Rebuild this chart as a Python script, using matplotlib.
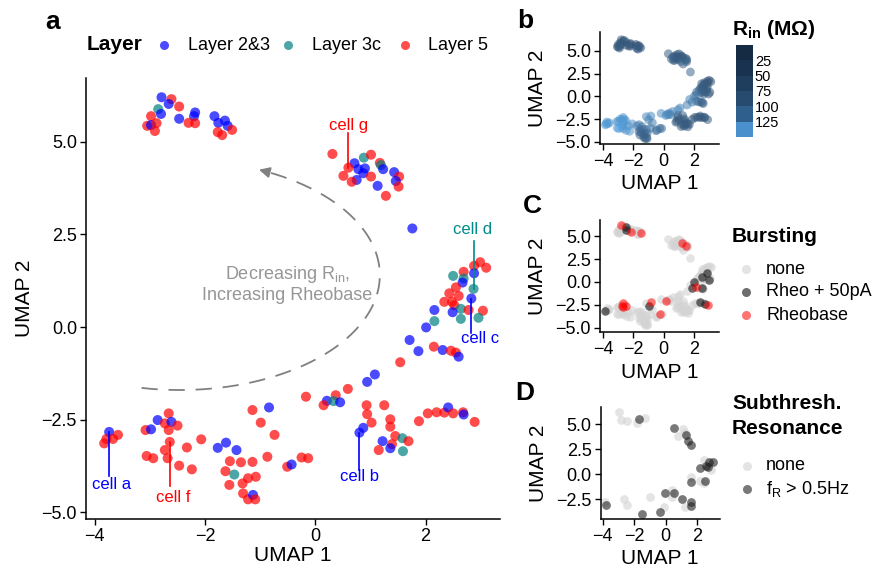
import numpy as np
import matplotlib
matplotlib.use("Agg")
import matplotlib.pyplot as plt
from matplotlib.lines import Line2D
from matplotlib.colors import ListedColormap, BoundaryNorm, LinearSegmentedColormap, Normalize
from matplotlib.cm import ScalarMappable

plt.rcParams['font.family'] = ['Liberation Sans', 'DejaVu Sans']
plt.rcParams['mathtext.fontset'] = 'custom'
plt.rcParams['mathtext.rm'] = 'Liberation Sans'
plt.rcParams['mathtext.it'] = 'Liberation Sans:italic'
plt.rcParams['mathtext.bf'] = 'Liberation Sans:bold'

# ---- UMAP embedding, one entry per cell (grouped by cluster) ----
umap1 = [
    -2.79, -2.61, -2.66, -2.47, -2.85, -2.80, -2.98, -2.47, -2.18, -2.20, -2.30, -2.18,
    -3.05, -2.98, -2.88, -2.91, -1.83, -1.76, -1.64, -1.59, -1.51, -1.77, -1.69,
    0.31, 0.88, 1.01, 0.71, 0.60, 0.78, 0.90, 0.87, 1.17, 1.19, 1.23, 0.51, 0.75, 0.66,
    1.01, 1.43, 1.52, 1.46, 1.51, 1.13, 1.28,
    1.76, 2.99, 2.88, 3.10, 2.69, 2.88, 2.50, 2.69, 2.67, 2.87, 2.55, 2.43, 2.60, 2.83,
    2.34, 2.48, 2.52, 2.64, 2.78, 3.04, 2.49, 2.16, 2.64, 2.96, 2.16, 2.01, 1.71, 2.15,
    1.87, 2.31, 2.46, 2.55, 2.60, 1.54,
    1.08, 0.94, 0.59, 0.37, -0.17, 0.21, 0.33, 0.45, 0.15,
    0.93, 1.25, 0.94, 1.02, 0.87, 0.80, 1.36, 1.36, 1.45, 1.58, 1.69, 1.22, 1.39, 1.36,
    1.15, 1.59,
    1.88, 2.04, 2.20, 2.34, 2.41, 2.50, 2.68, 2.69, 2.89,
    -3.74, -3.83, -3.79, -3.67, -3.58, -3.08, -2.98, -2.86, -2.66, -2.73, -2.61, -2.50,
    -2.66, -2.64, -2.73, -2.68, -3.06, -2.94, -2.33, -2.07, -2.47, -2.24,
    -1.77, -1.62, -1.43, -1.55, -1.35, -1.14, -1.63, -1.47, -1.56, -1.22, -1.08, -1.32,
    -1.31, -1.22, -1.13, -1.09,
    -1.14, -0.84, -0.99, -0.74, -0.87, -0.51, -0.43, -0.25, -0.13,
]
umap2 = [
    6.20, 6.15, 6.02, 5.95, 5.88, 5.75, 5.69, 5.62, 5.79, 5.69, 5.51, 5.50,
    5.43, 5.45, 5.50, 5.29, 5.69, 5.51, 5.57, 5.43, 5.32, 5.26, 5.18,
    4.67, 4.57, 4.65, 4.42, 4.30, 4.26, 4.28, 4.15, 4.43, 4.37, 4.26, 4.08, 3.97, 3.92,
    4.06, 4.18, 4.06, 3.94, 3.79, 3.81, 3.54,
    2.66, 1.75, 1.65, 1.60, 1.49, 1.45, 1.38, 1.31, 1.20, 1.03, 1.07, 0.91, 0.84, 0.77,
    0.68, 0.68, 0.59, 0.49, 0.46, 0.44, 0.40, 0.46, 0.22, 0.25, 0.16, -0.01, -0.35, -0.53,
    -0.65, -0.62, -0.64, -0.69, -0.80, -0.95,
    -1.28, -1.48, -1.67, -1.84, -1.88, -1.99, -2.00, -2.03, -2.11,
    -2.11, -2.11, -2.35, -2.58, -2.72, -2.85, -2.49, -2.69, -2.94, -3.00, -3.08, -3.08,
    -3.16, -3.27, -3.32, -3.35,
    -2.54, -2.33, -2.30, -2.31, -2.17, -2.33, -2.30, -2.36, -2.56,
    -2.83, -3.14, -3.02, -3.02, -2.91, -2.78, -2.76, -2.51, -2.33, -2.60, -2.56, -2.66,
    -2.78, -3.10, -3.32, -3.54, -3.48, -3.54, -3.25, -3.03, -3.74, -3.84,
    -3.26, -3.12, -3.32, -3.62, -3.65, -3.64, -3.89, -3.98, -4.26, -4.08, -4.04, -4.22,
    -4.49, -4.65, -4.53, -4.65,
    -2.24, -2.17, -2.58, -2.91, -3.50, -3.77, -3.71, -3.52, -3.54,
]
layer = [
    '23', '5', '23', '5', '3c', '23', '5', '23', '23', '23', '5', '5',
    '5', '23', '5', '5', '23', '23', '23', '23', '5', '5', '5',
    '5', '3c', '5', '23', '5', '23', '23', '23', '5', '3c', '23', '5', '23', '5',
    '5', '23', '5', '23', '5', '23', '5',
    '23', '5', '5', '5', '5', '23', '3c', '3c', '23', '3c', '5', '5', '5', '23',
    '5', '5', '5', '3c', '5', '5', '23', '23', '3c', '3c', '3c', '23', '23', '5',
    '23', '23', '5', '5', '23', '5',
    '23', '23', '5', '5', '5', '23', '3c', '23', '5',
    '5', '5', '5', '5', '23', '23', '5', '5', '5', '3c', '5', '23',
    '5', '23', '5', '3c',
    '5', '5', '5', '5', '23', '5', '5', '23', '5',
    '23', '5', '5', '5', '5', '5', '23', '23', '5', '5', '23', '5',
    '5', '5', '5', '5', '5', '5', '5', '5', '5', '5',
    '23', '23', '23', '5', '5', '5', '5', '3c', '5', '5', '5', '5',
    '5', '5', '23', '5',
    '5', '23', '5', '5', '5', '5', '23', '5', '5',
]
# input resistance (MOhm)
rin = [
    35, 40, 30, 45, 38, 32, 42, 36, 30, 34, 40, 44,
    45, 38, 40, 42, 30, 32, 36, 34, 48, 44, 40,
    50, 45, 40, 38, 42, 36, 40, 44, 38, 42, 40, 55, 46, 48,
    40, 44, 50, 46, 52, 48, 58,
    60, 35, 38, 32, 40, 36, 42, 38, 40, 45, 44, 46, 40, 42,
    50, 48, 46, 44, 40, 38, 48, 70, 52, 45, 75, 80, 100, 70,
    90, 65, 60, 55, 58, 95,
    105, 100, 110, 108, 112, 104, 100, 98, 110,
    55, 50, 48, 45, 42, 40, 46, 44, 42, 40, 44, 38,
    40, 42, 46, 44,
    45, 42, 40, 44, 38, 42, 40, 38, 44,
    130, 128, 135, 132, 126, 125, 130, 122, 120, 124, 128, 126,
    130, 132, 135, 128, 138, 134, 122, 118, 126, 124,
    95, 90, 80, 70, 65, 75, 60, 62, 58, 55, 60, 56,
    52, 50, 55, 54,
    110, 112, 95, 90, 80, 75, 78, 72, 70,
]
# bursting: none / rheo50 (Rheo + 50pA) / rheo (Rheobase)
burst = [
    'rheo', 'none', 'none', 'rheo50', 'none', 'none', 'none', 'rheo50', 'none', 'none', 'none', 'rheo',
    'none', 'none', 'none', 'none', 'none', 'none', 'none', 'none', 'rheo', 'none', 'none',
    'none', 'none', 'none', 'none', 'none', 'none', 'none', 'none', 'none', 'none', 'rheo', 'none', 'none', 'none',
    'none', 'none', 'none', 'rheo', 'none', 'none', 'none',
    'none', 'none', 'none', 'none', 'none', 'none', 'none', 'none', 'none', 'rheo50', 'none', 'none', 'none', 'none',
    'none', 'none', 'rheo50', 'none', 'none', 'none', 'none', 'none', 'none', 'rheo50', 'none', 'rheo50', 'none', 'rheo',
    'rheo50', 'none', 'none', 'rheo50', 'none', 'none',
    'none', 'none', 'none', 'none', 'none', 'none', 'none', 'none', 'rheo',
    'none', 'none', 'none', 'none', 'none', 'none', 'none', 'none', 'none', 'none', 'none', 'none',
    'none', 'none', 'none', 'none',
    'none', 'none', 'none', 'none', 'rheo50', 'none', 'none', 'rheo50', 'rheo',
    'none', 'rheo50', 'none', 'none', 'none', 'none', 'none', 'none', 'rheo', 'rheo', 'none', 'rheo',
    'rheo', 'none', 'none', 'none', 'none', 'none', 'none', 'none', 'none', 'none',
    'none', 'none', 'none', 'none', 'none', 'none', 'none', 'none', 'none', 'none', 'none', 'none',
    'none', 'none', 'none', 'none',
    'none', 'rheo', 'rheo50', 'none', 'none', 'none', 'none', 'rheo', 'none',
]

# panel D: cells tested for subthreshold resonance
res_u1 = [-2.98, -2.81, -2.43, -1.79, -1.33, 1.11, 1.26, 0.79, 2.45, 2.92, 2.71, 1.60,
          2.18, 2.45, -3.87, -2.64, -2.43, -0.97, 0.42, 0.42, -0.12, 1.26,
          -3.77, -1.69, 0.51, 1.33, 1.43, 1.64, 2.22, 2.60, 2.77, 3.03, 2.71, 2.54,
          1.64, -0.05, 0.52, 1.07, 1.64, 1.64, -0.35, -1.48]
res_u2 = [6.18, 5.41, 5.35, 5.08, 5.58, 4.48, 4.08, 3.85, 1.43, 0.43, 1.09, -0.30,
          -0.63, -0.90, -2.73, -2.50, -3.06, -2.30, -1.56, -2.23, -3.23, -3.29,
          -3.06, 5.51, 4.65, 3.92, 3.35, 2.92, 0.60, 0.83, 1.26, 1.26, 0.76, -0.63,
          -0.80, -1.82, -1.82, -2.46, -2.79, -3.15, -3.73, -4.00]
res_cls = ['none'] * 22 + ['fR'] * 20

# labelled example cells: (label, index, text x, text y, line end y, colour)
cell_labels = [
    ('cell a', 112, -3.69, -4.26, -4.02, '#0000FF'),
    ('cell f', 125, -2.58, -4.59, -4.29, '#FF0000'),
    ('cell b', 92, 0.81, -4.04, -3.86, '#0000FF'),
    ('cell g', 27, 0.61, 5.43, 5.23, '#FF0000'),
    ('cell d', 53, 2.86, 2.64, 2.32, '#008B8B'),
    ('cell c', 57, 2.98, -0.31, -0.15, '#0000FF'),
]

layer_colors = {'23': '#0000FF', '3c': '#008080', '5': '#FF0000'}
layer_names = {'23': 'Layer 2&3', '3c': 'Layer 3c', '5': 'Layer 5'}
burst_colors = {'none': ('#D3D3D3', 0.6), 'rheo50': ('#202020', 0.65), 'rheo': ('#FF0000', 0.55)}
burst_names = {'none': 'none', 'rheo50': 'Rheo + 50pA', 'rheo': 'Rheobase'}
rin_steps = ['#142B43', '#193250', '#1F3D5C', '#264B6E', '#2F5F8C', '#4A90CC']

W, H = 875, 570


def fx(p):
    return p / W


def fy(p):
    return 1 - p / H


def style_axis(ax):
    for s in ['top', 'right']:
        ax.spines[s].set_visible(False)
    for s in ['left', 'bottom']:
        ax.spines[s].set_linewidth(1.1)
    ax.tick_params(direction='out', length=4.3, width=1.0, labelsize=13, pad=2.2, colors='black')


def num(v):
    s = '%.1f' % abs(v)
    return ('\u2212' + s) if v < 0 else s


fig = plt.figure(figsize=(W / 100, H / 100), dpi=100)

# ---------------- panel a ----------------
ax = fig.add_axes([fx(86), fy(519), 414 / W, 441 / H])
ax.scatter(umap1, umap2, c=[layer_colors[l] for l in layer], s=52, alpha=0.7, linewidths=0)
ax.set_xlim(-4.16, 3.35)
ax.set_ylim(-5.18, 6.72)
ax.set_xticks([-4, -2, 0, 2])
ax.set_xticklabels(['\u22124', '\u22122', '0', '2'])
ax.set_yticks([-5, -2.5, 0, 2.5, 5])
ax.set_yticklabels([num(v) for v in [-5, -2.5, 0, 2.5, 5]])
style_axis(ax)
ax.set_xlabel('UMAP 1', fontsize=15, va='top')
ax.xaxis.set_label_coords(0.5, -0.062)
ax.set_ylabel('UMAP 2', fontsize=15)
ax.yaxis.set_label_coords(-0.126, 0.5)

for lab, i, tx, ty, ly, col in cell_labels:
    ax.plot([umap1[i], umap1[i]], [umap2[i], ly], color=col, lw=1.2)
    ax.text(tx, ty, lab, color=col, fontsize=12, ha='center', va='center')

# dashed arc arrow
t = np.radians(np.linspace(-101, 64, 200))
arc_x = -2.46 + 3.63 * np.cos(t)
arc_y = 1.40 + 3.10 * np.sin(t)
ax.plot(arc_x, arc_y, color='#808080', lw=1.3, ls=(0, (9, 6)))
te = np.radians(67.5)
ax.annotate('', xy=(-2.46 + 3.63 * np.cos(te), 1.40 + 3.10 * np.sin(te)),
            xytext=(arc_x[-1], arc_y[-1]),
            arrowprops=dict(arrowstyle='-|>', color='#808080', lw=1.3, mutation_scale=16))
ax.text(-0.51, 1.15, 'Decreasing R$_\\mathregular{in}$,\nIncreasing Rheobase',
        color='#969696', fontsize=13, ha='center', va='center', multialignment='center',
        linespacing=1.15)

fig.text(fx(45), fy(22), 'a', fontsize=19, fontweight='bold', va='center', ha='left')
fig.text(fx(87), fy(45), 'Layer', fontsize=15, fontweight='bold', va='center', ha='left')
for key, mx, tx in [('23', 164, 188), ('3c', 288, 312), ('5', 405, 428)]:
    fig.add_artist(Line2D([fx(mx)], [fy(45)], marker='o', ms=6.5, ls='none', mew=0,
                          color=layer_colors[key], alpha=0.7, transform=fig.transFigure))
    fig.text(fx(tx), fy(45), layer_names[key], fontsize=13, va='center', ha='left')


def small_panel(rect, xlim, ylim, yticks):
    a = fig.add_axes(rect)
    a.set_xlim(*xlim)
    a.set_ylim(*ylim)
    a.set_xticks([-4, -2, 0, 2])
    a.set_xticklabels(['\u22124', '\u22122', '0', '2'])
    a.set_yticks(yticks)
    a.set_yticklabels([num(v) for v in yticks])
    style_axis(a)
    a.set_xlabel('UMAP 1', fontsize=15, va='top')
    a.set_ylabel('UMAP 2', fontsize=15)
    a.yaxis.set_label_coords(-0.444, 0.5)
    return a


# ---------------- panel b ----------------
pt_cmap = LinearSegmentedColormap.from_list('rin', ['#2E4560', '#5AA8E8'])
axb = small_panel([fx(600), fy(144), 119.3 / W, 112.3 / H], (-4.19, 3.66), (-5.24, 7.09),
                  [-5, -2.5, 0, 2.5, 5])
axb.xaxis.set_label_coords(0.5, -0.267)
axb.scatter(umap1, umap2, c=rin, cmap=pt_cmap, norm=Normalize(10, 150), s=40, alpha=0.55,
            linewidths=0)
fig.text(fx(517), fy(21), 'b', fontsize=19, fontweight='bold', va='center', ha='left')
fig.text(fx(732), fy(35), '$\\mathbf{R_{in}}$ (M\u03a9)', fontsize=15, fontweight='bold',
         va='baseline', ha='left')
step_cmap = ListedColormap(rin_steps)
step_norm = BoundaryNorm([0, 25, 50, 75, 100, 125, 150], step_cmap.N)
cax = fig.add_axes([fx(735.7), fy(137), 17 / W, 92 / H])
cb = fig.colorbar(ScalarMappable(norm=step_norm, cmap=step_cmap), cax=cax, drawedges=True,
                  ticks=[25, 50, 75, 100, 125])
cb.outline.set_visible(False)
cb.dividers.set_color('white')
cb.dividers.set_linewidth(1.5)
cax.minorticks_off()
cax.invert_yaxis()
cax.tick_params(which='both', length=0, labelsize=10.5, pad=1.5)

# ---------------- panel C ----------------
axc = small_panel([fx(600), fy(331.7), 119.3 / W, 111.7 / H], (-4.19, 3.66), (-5.42, 6.76),
                  [-5, -2.5, 0, 2.5, 5])
axc.xaxis.set_label_coords(0.5, -0.28)
for key in ['none', 'rheo50', 'rheo']:
    xs = [u for u, b in zip(umap1, burst) if b == key]
    ys = [v for v, b in zip(umap2, burst) if b == key]
    col, al = burst_colors[key]
    axc.scatter(xs, ys, color=col, s=38, alpha=al, linewidths=0)
fig.text(fx(523), fy(206), 'C', fontsize=19, fontweight='bold', va='center', ha='left')
fig.text(fx(732), fy(236), 'Bursting', fontsize=15, fontweight='bold', va='center', ha='left')
for key, yy in [('none', 269), ('rheo50', 291.5), ('rheo', 315)]:
    col, al = burst_colors[key]
    fig.add_artist(Line2D([fx(746)], [fy(yy)], marker='o', ms=6.5, ls='none', mew=0,
                          color=col, alpha=al, transform=fig.transFigure))
    fig.text(fx(766), fy(yy), burst_names[key], fontsize=13, va='center', ha='left')

# ---------------- panel D ----------------
axd = small_panel([fx(600.7), fy(519), 119 / W, 112.3 / H], (-4.13, 3.45), (-4.46, 6.74),
                  [-2.5, 0, 2.5, 5])
axd.xaxis.set_label_coords(0.5, -0.267)
res_colors = {'none': ('#D3D3D3', 0.6), 'fR': ('#202020', 0.6)}
for key in ['none', 'fR']:
    xs = [u for u, c in zip(res_u1, res_cls) if c == key]
    ys = [v for v, c in zip(res_u2, res_cls) if c == key]
    col, al = res_colors[key]
    axd.scatter(xs, ys, color=col, s=40, alpha=al, linewidths=0)
fig.text(fx(515), fy(393.5), 'D', fontsize=19, fontweight='bold', va='center', ha='left')
fig.text(fx(732), fy(403.5), 'Subthresh.', fontsize=15, fontweight='bold', va='center', ha='left')
fig.text(fx(732), fy(429), 'Resonance', fontsize=15, fontweight='bold', va='center', ha='left')
for key, yy, lab in [('none', 466, 'none'), ('fR', 489.3, 'f$_\\mathregular{R}$ > 0.5Hz')]:
    col, al = res_colors[key]
    fig.add_artist(Line2D([fx(746.7)], [fy(yy)], marker='o', ms=6.5, ls='none', mew=0,
                          color=col, alpha=al, transform=fig.transFigure))
    fig.text(fx(766), fy(yy), lab, fontsize=13, va='center', ha='left')

fig.savefig('out.png', dpi=100)
